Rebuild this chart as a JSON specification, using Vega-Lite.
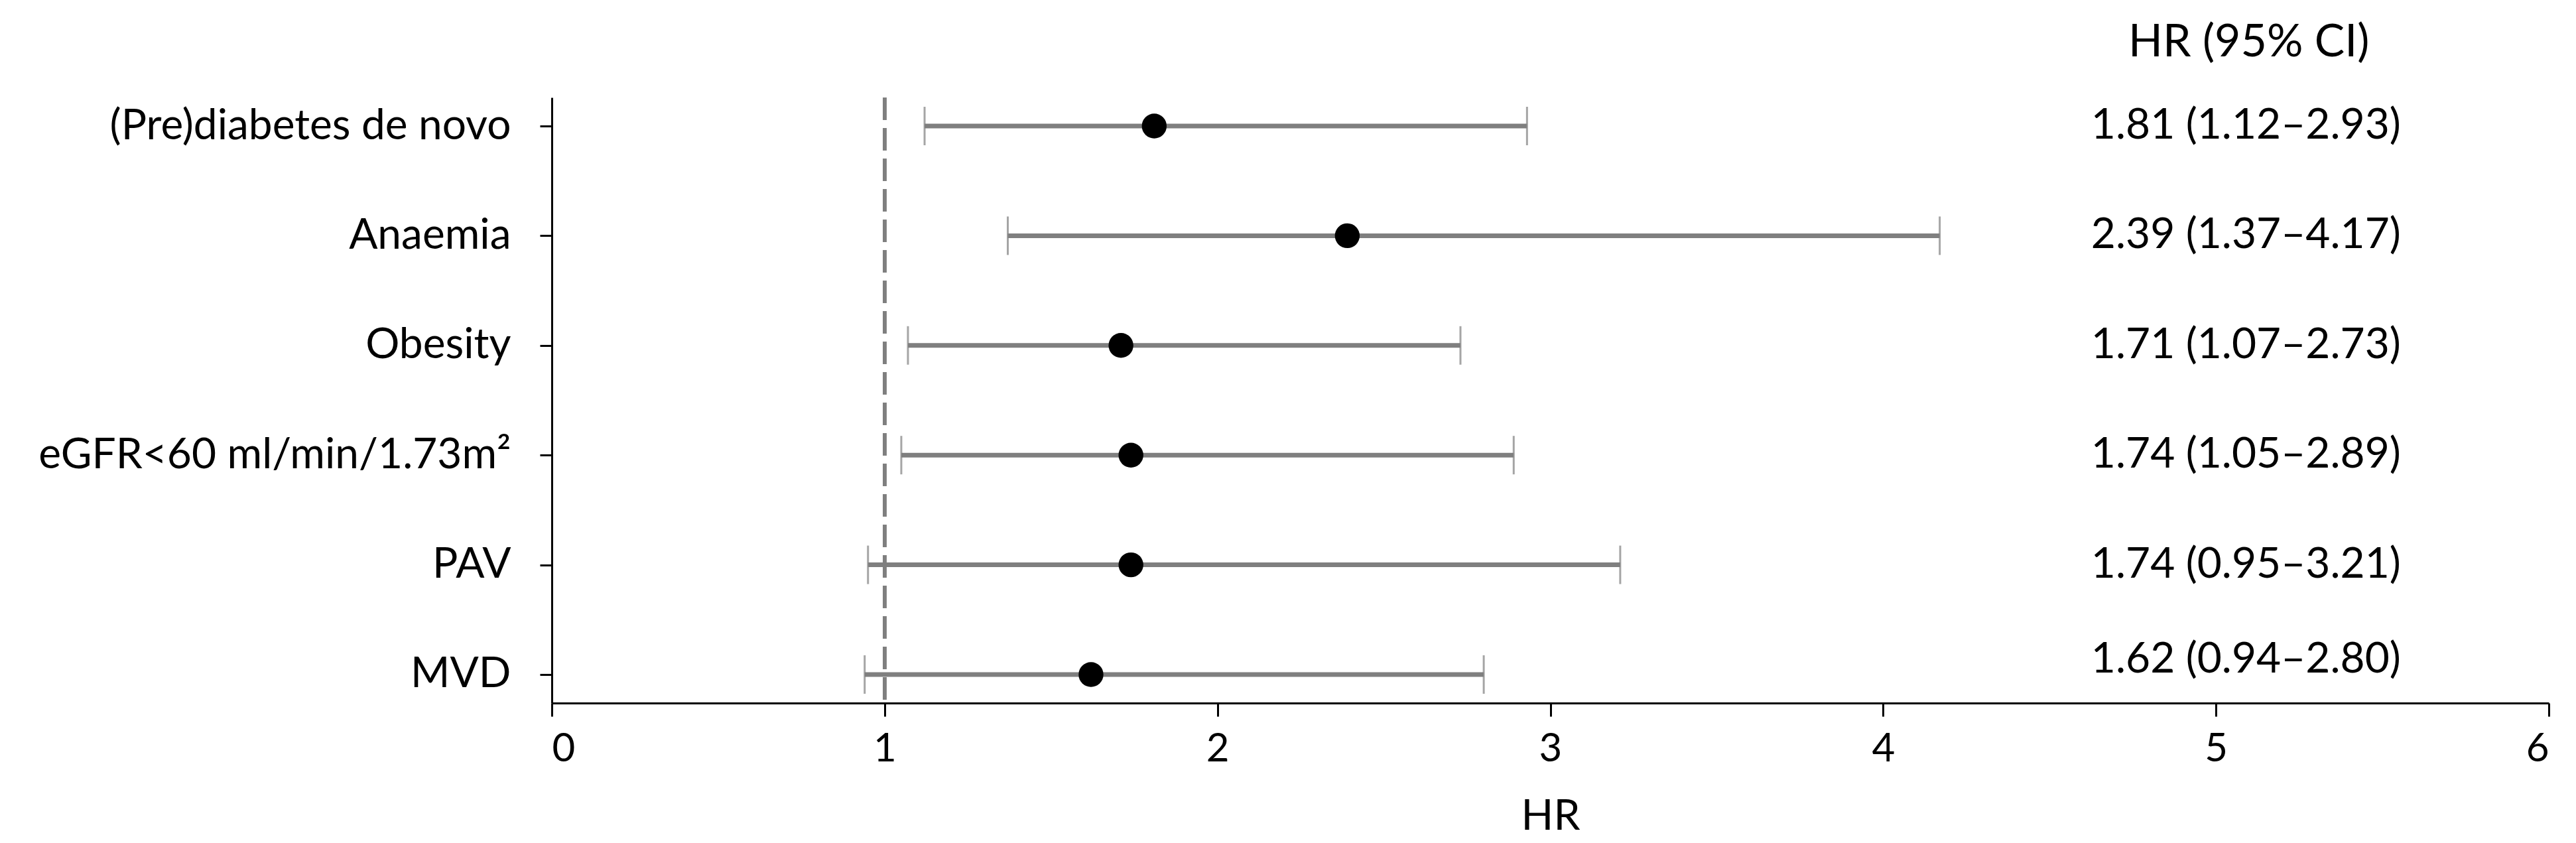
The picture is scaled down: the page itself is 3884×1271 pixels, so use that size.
{
  "$schema": "https://vega.github.io/schema/vega-lite/v6.json",
  "autosize": "none",
  "width": 3011,
  "height": 913,
  "padding": {"left": 832, "top": 147, "right": 41, "bottom": 211},
  "background": "white",
  "config": {
    "view": {"stroke": null},
    "font": "Lato",
    "title": {"font": "Lato", "fontWeight": "normal", "fontSize": 68, "color": "black"}
  },
  "title": {"text": "HR (95% CI)", "anchor": "end", "dx": -272, "offset": 46},
  "data": {
    "values": [
      {"factor": "(Pre)diabetes de novo", "hr": 1.81, "lo": 1.12, "hi": 2.93, "label": "1.81 (1.12–2.93)"},
      {"factor": "Anaemia", "hr": 2.39, "lo": 1.37, "hi": 4.17, "label": "2.39 (1.37–4.17)"},
      {"factor": "Obesity", "hr": 1.71, "lo": 1.07, "hi": 2.73, "label": "1.71 (1.07–2.73)"},
      {"factor": "eGFR<60 ml/min/1.73m²", "hr": 1.74, "lo": 1.05, "hi": 2.89, "label": "1.74 (1.05–2.89)"},
      {"factor": "PAV", "hr": 1.74, "lo": 0.95, "hi": 3.21, "label": "1.74 (0.95–3.21)"},
      {"factor": "MVD", "hr": 1.62, "lo": 0.94, "hi": 2.80, "label": "1.62 (0.94–2.80)"}
    ]
  },
  "encoding": {
    "y": {
      "field": "factor", "type": "nominal", "sort": null,
      "scale": {"type": "point", "padding": 0.26},
      "axis": {
        "title": null, "domainColor": "black", "domainWidth": 3,
        "tickColor": "black", "tickWidth": 3, "tickSize": 18,
        "labelFontSize": 64, "labelColor": "black", "labelPadding": 44, "labelFont": "Lato", "labelLimit": 0
      }
    }
  },
  "layer": [
    {
      "mark": {"type": "rule", "color": "#7f7f7f", "strokeWidth": 5, "strokeDash": [34, 12]},
      "encoding": {"x": {"datum": 1, "type": "quantitative"}, "y": null}
    },
    {
      "mark": {"type": "rule", "color": "#7f7f7f", "strokeWidth": 7},
      "encoding": {
        "x": {
          "field": "lo", "type": "quantitative",
          "scale": {"domain": [0, 6], "nice": false, "zero": false},
          "axis": {
            "title": "HR", "values": [0, 1, 2, 3, 4, 5, 6], "format": "d", "grid": false,
            "domainColor": "black", "domainWidth": 3,
            "tickColor": "black", "tickWidth": 3, "tickSize": 20,
            "labelFontSize": 60, "labelColor": "black", "labelPadding": 20, "labelFont": "Lato",
            "titleFontSize": 64, "titleFont": "Lato", "titleFontWeight": "normal", "titleColor": "black", "titlePadding": 40
          }
        },
        "x2": {"field": "hi"}
      }
    },
    {
      "mark": {"type": "tick", "color": "#7f7f7f", "thickness": 3, "size": 58},
      "encoding": {"x": {"field": "lo", "type": "quantitative"}}
    },
    {
      "mark": {"type": "tick", "color": "#7f7f7f", "thickness": 3, "size": 58},
      "encoding": {"x": {"field": "hi", "type": "quantitative"}}
    },
    {
      "mark": {"type": "point", "filled": true, "color": "black", "opacity": 1, "size": 1400},
      "encoding": {"x": {"field": "hr", "type": "quantitative"}}
    },
    {
      "transform": [{"filter": "datum.factor !== 'MVD'"}],
      "mark": {"type": "text", "fontSize": 64, "color": "black", "align": "center", "baseline": "middle", "font": "Lato"},
      "encoding": {"x": {"datum": 5.09, "type": "quantitative"}, "text": {"field": "label"}}
    },
    {
      "transform": [{"filter": "datum.factor === 'MVD'"}],
      "mark": {"type": "text", "fontSize": 64, "color": "black", "align": "center", "baseline": "middle", "font": "Lato", "dy": -22},
      "encoding": {"x": {"datum": 5.09, "type": "quantitative"}, "text": {"field": "label"}}
    }
  ]
}
